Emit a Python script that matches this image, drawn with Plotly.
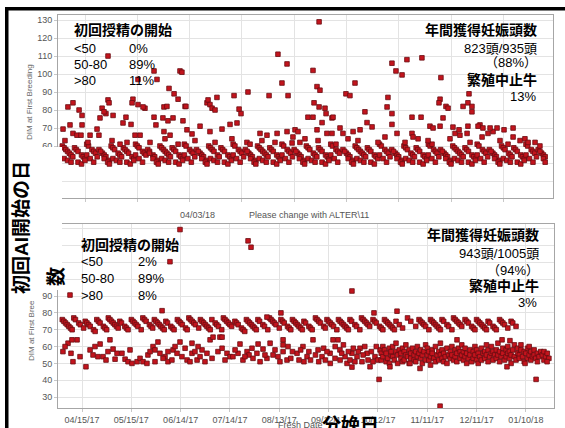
import pandas as pd
import plotly.graph_objects as go

W, H = 565, 428
BASE = pd.Timestamp("2017-04-01")

# ---------------- top chart (days since BASE, DIM at first breeding) ----------------
top_band_x = [
    1, 2, 3, 4, 5, 6, 7, 2, 4, 6,
    8, 9, 10, 12, 13, 14, 10, 12, 14,
    15, 16, 18, 19, 20, 15, 17, 19, 21,
    22, 24, 25, 26, 28, 23, 25, 27, 28,
    29, 30, 31, 33, 34, 35, 30, 32, 34,
    36, 37, 38, 39, 41, 42, 38, 40, 42,
    43, 44, 45, 47, 48, 43, 45, 47, 49,
    50, 51, 53, 54, 56, 51, 53, 55, 56,
    57, 58, 59, 60, 61, 62, 63, 58, 60, 62,
    64, 65, 66, 68, 69, 70, 66, 68, 70,
    71, 72, 74, 75, 76, 71, 73, 75, 77,
    78, 80, 81, 82, 84, 79, 81, 83, 84,
    85, 86, 87, 88, 90, 91, 86, 88, 90,
    92, 93, 94, 96, 97, 98, 94, 96, 98,
    99, 100, 102, 103, 104, 99, 101, 103, 105,
    106, 108, 109, 110, 112, 107, 109, 111, 112,
    113, 114, 115, 116, 117, 118, 119, 114, 116, 118,
    120, 121, 122, 124, 125, 126, 122, 124, 126,
    127, 128, 130, 131, 132, 127, 129, 131, 133,
    134, 136, 137, 138, 140, 135, 137, 139, 140,
    141, 142, 143, 145, 146, 147, 142, 144, 146,
    148, 149, 150, 152, 153, 154, 150, 152, 154,
    155, 156, 158, 159, 160, 155, 157, 159,
    162, 164, 165, 166, 168, 163, 165, 167, 168,
    169, 170, 171, 172, 173, 174, 175, 170, 172, 174,
    176, 177, 178, 180, 181, 182, 178, 180,
    183, 184, 186, 187, 188, 183, 185, 187, 189,
    190, 192, 193, 194, 196, 191, 193, 195, 196,
    197, 198, 199, 201, 202, 203, 198, 200, 202,
    204, 205, 206, 208, 209, 210, 206, 208, 210,
    211, 212, 214, 215, 216, 211, 213, 215, 217,
    218, 220, 221, 222, 224, 219, 221, 223, 224,
    225, 226, 227, 228, 229, 230, 231, 226, 228, 230,
    232, 233, 234, 236, 237, 238, 234, 236, 238,
    239, 240, 242, 243, 244, 239, 241, 243, 245,
    246, 248, 249, 250, 252, 247, 249, 251, 252,
    253, 254, 255, 257, 258, 259, 254, 256, 258,
    260, 261, 262, 264, 265, 266, 262, 264, 266,
    267, 268, 270, 271, 272, 267, 269, 271, 273,
    274, 276, 277, 278, 275, 277, 278,
]
top_band_y = [
    60, 59, 58, 57, 56, 55, 54, 53, 52, 51,
    59, 58, 57, 55, 54, 53, 51, 50, 52,
    61, 60, 58, 57, 56, 55, 53, 51, 54,
    58, 56, 55, 54, 52, 57, 53, 51, 50,
    60, 59, 58, 56, 55, 54, 53, 52, 51,
    59, 58, 57, 56, 54, 53, 51, 50, 52,
    61, 60, 59, 57, 56, 55, 53, 51, 55,
    58, 57, 55, 54, 52, 56, 53, 51, 50,
    60, 59, 58, 57, 56, 55, 54, 53, 52, 51,
    59, 58, 57, 55, 54, 53, 51, 50, 52,
    61, 60, 58, 57, 56, 55, 53, 51, 54,
    58, 56, 55, 54, 52, 57, 53, 51, 50,
    60, 59, 58, 57, 55, 54, 53, 52, 51,
    59, 58, 57, 55, 54, 53, 51, 50, 52,
    61, 60, 58, 57, 56, 55, 53, 51, 54,
    58, 56, 55, 54, 52, 57, 53, 51, 50,
    60, 59, 58, 57, 56, 55, 54, 53, 52, 51,
    59, 58, 57, 55, 54, 53, 51, 50, 52,
    61, 60, 58, 57, 56, 55, 53, 51, 54,
    58, 56, 55, 54, 52, 57, 53, 51, 50,
    60, 59, 58, 56, 55, 54, 53, 52, 51,
    59, 58, 57, 55, 54, 53, 51, 50, 52,
    61, 60, 58, 57, 56, 55, 53, 51,
    58, 56, 55, 54, 52, 57, 53, 51, 50,
    60, 59, 58, 57, 56, 55, 54, 53, 52, 51,
    59, 58, 57, 55, 54, 53, 51, 50,
    61, 60, 58, 57, 56, 55, 53, 51, 54,
    58, 56, 55, 54, 52, 57, 53, 51, 50,
    60, 59, 58, 56, 55, 54, 53, 52, 51,
    59, 58, 57, 55, 54, 53, 51, 50, 52,
    61, 60, 58, 57, 56, 55, 53, 51, 54,
    58, 56, 55, 54, 52, 57, 53, 51, 50,
    60, 59, 58, 57, 56, 55, 54, 53, 52, 51,
    59, 58, 57, 55, 54, 53, 51, 50, 52,
    61, 60, 58, 57, 56, 55, 53, 51, 54,
    58, 56, 55, 54, 52, 57, 53, 51, 50,
    60, 59, 58, 56, 55, 54, 53, 52, 51,
    59, 58, 57, 55, 54, 53, 51, 50, 52,
    61, 60, 58, 57, 56, 55, 53, 51, 54,
    58, 56, 55, 54, 57, 53, 51,
]

top_mid_x = [
    1.4, 5.4, 7.1, 9.4, 11.7, 16.9, 12.3, 20.9, 22.0, 22.6,
    26.0, 35.8, 40.4, 42.7, 45.6, 38.1, 54.7, 58.7, 64.5, 70.2,
    59.3, 62.8, 72.5, 75.4, 80.0, 85.7, 92.6, 97.2, 101.2, 106.9,
    114.4, 118.4, 124.2, 129.9, 134.5,
    2.5, 15.7, 29.5, 34.1, 51.3, 59.9, 67.4, 77.1, 88.6, 98.3, 108.7, 115.5, 123.0,
    137.3, 140.2, 147.7, 158.0, 164.9, 182.1, 186.1, 197.6, 205.1, 213.1,
    223.4, 234.9, 241.8, 252.1, 256.7, 266.4, 272.2, 275.0,
    155.7, 150.0, 160.3, 147.1, 152.8, 155.7, 162.0, 167.8, 171.8, 175.8,
    178.7, 170.6, 190.1, 193.0, 201.6, 202.2, 210.8, 226.3, 229.1, 233.2,
    240.6, 245.2, 248.1, 259.6, 263.6, 268.2, 136.2, 133.3, 132.8,
    217.7, 211.9, 213.7, 225.1, 228.6, 233.7, 239.5, 242.3, 246.4, 250.4, 254.4, 259.6,
]
top_mid_y = [
    69.4, 71.7, 67, 66, 66, 66, 71.7, 69.4, 66, 75.6,
    78, 72.8, 72, 66, 66, 62, 71.7, 75.6, 75.6, 74,
    68, 66, 69, 66.7, 71, 68, 69.4, 72, 72.8, 62,
    67, 66, 67, 68, 69,
    63, 62, 63, 61, 62, 64, 61, 63, 62, 64, 61, 63, 62,
    62, 64, 63, 61, 64, 62, 65, 62, 64, 61,
    64, 62, 65, 63, 61, 64, 62, 60,
    75.6, 73, 70, 69, 67, 67, 67, 68, 69, 73,
    70.6, 63, 72, 67, 67, 65, 63, 67, 66, 67,
    71.7, 67, 68, 65, 63, 62, 68, 65, 61.7,
    71, 71, 70, 70.5, 69, 71, 71, 70, 70, 70, 69, 70,
]

top_high_x = [
    27.2, 53.6, 44.4, 55.3, 68.5, 62.2, 65.1, 67.4, 71.4, 7.1,
    10.6, 12.3, 23.8, 27.2, 27.8, 24.9, 30.1, 41.5, 44.4, 48.4,
    37.5, 59.3, 61.6, 4.2, 41.0, 47.3, 53.6, 61.0, 84.0,
    148.3, 124.7, 129.9, 144.8, 127.0, 147.1, 148.8, 107.5, 168.9, 190.1,
    192.4, 119.6, 99.5, 89.7, 130.5, 163.7, 166.0, 187.8, 69.6, 84.6,
    85.7, 86.9, 88.6, 71.9, 102.4, 103.5, 145.4, 148.3, 151.7, 152.3,
    174.6, 187.3, 190.1, 141.9, 144.8, 156.3,
    207.3, 198.7, 195.9, 218.2, 217.7, 217.1, 234.3, 233.7, 236.0, 230.9,
    221.1, 222.3, 201.6, 206.8, 219.4, 236.0,
]
top_high_y = [
    110, 101.7, 97, 97, 101.7, 92, 89, 86, 82, 84,
    80, 77, 81, 85.6, 84, 79, 77, 86, 83, 81,
    76, 81.7, 74, 81.7, 84, 81.7, 76, 82, 84,
    129, 111, 105.6, 102, 95, 93, 91, 90, 95, 106,
    101.7, 88, 88, 87, 88, 89, 88, 87, 101, 85.6,
    83, 81, 80, 82, 80.5, 78, 84, 81.7, 81, 78,
    79, 81.7, 78, 76, 76, 76,
    109, 108, 99.5, 98, 86, 84, 89, 84, 82, 82,
    82, 81, 76, 76, 75.6, 79,
]

# ---------------- bottom chart ----------------
bot_sync_x = [
    2, 3, 4, 5, 6, 7, 8,
    9, 10, 12, 13, 15,
    16, 17, 18, 19, 21, 22,
    23, 24, 25, 27, 28, 29,
    30, 31, 32, 33, 34, 35, 36,
    37, 38, 40, 41, 42,
    44, 45, 46, 47, 48, 50,
    51, 52, 53, 55, 56, 57,
    58, 59, 60, 61, 62, 63, 64,
    65, 66, 68, 69, 70,
    72, 73, 74, 75, 77, 78,
    79, 80, 81, 82, 83, 85,
    86, 87, 88, 89, 90, 91, 92,
    93, 95, 96, 97, 99,
    100, 101, 102, 103, 104, 105,
    107, 108, 109, 111, 112, 113,
    114, 115, 116, 117, 118, 119, 120,
    121, 122, 124, 125, 127,
    128, 129, 130, 131, 132, 134,
    135, 136, 137, 139, 140, 141,
    142, 143, 144, 145, 146, 147, 148,
    149, 150, 152, 153, 154,
    156, 157, 158, 159, 161, 162,
    163, 164, 165, 166, 167, 169,
    170, 171, 172, 173, 174, 175, 176,
    177, 178, 180, 181, 183,
    184, 185, 186, 187, 188, 189,
    191, 192, 193, 195, 196, 197,
    198, 199, 200, 201, 202, 203, 204,
    205, 207, 209,
    212, 214, 217,
    219, 220, 221, 222, 223, 225,
    226, 227, 228, 229, 230, 231, 232,
    233, 234, 236, 237, 239,
    240, 241, 242, 243, 244, 245,
    247, 248, 249, 251, 252, 253,
    254, 255, 256, 257, 258, 259, 260,
    261, 262, 264, 265, 266,
    268, 269, 270, 271, 273,
    275, 276, 278,
]
bot_sync_y = [
    76, 75, 74, 73, 72, 71, 70,
    77, 76, 74, 73, 71,
    75, 74, 73, 72, 70, 69,
    76, 75, 74, 72, 71, 70,
    77, 76, 75, 74, 73, 72, 71,
    75, 74, 72, 71, 70,
    76, 75, 74, 73, 72, 70,
    77, 76, 75, 73, 72, 71,
    76, 75, 74, 73, 72, 71, 70,
    75, 74, 72, 71, 70,
    76, 75, 74, 73, 71, 70,
    77, 76, 75, 74, 73, 71,
    76, 75, 74, 73, 72, 71, 70,
    76, 74, 73, 72, 70,
    77, 76, 75, 74, 73, 72,
    75, 74, 73, 71, 70, 69,
    76, 75, 74, 73, 72, 71, 70,
    76, 75, 73, 72, 70,
    77, 76, 75, 74, 73, 71,
    76, 75, 74, 72, 71, 70,
    76, 75, 74, 73, 72, 71, 70,
    75, 74, 72, 71, 70,
    77, 76, 75, 74, 72, 71,
    76, 75, 74, 73, 72, 70,
    76, 75, 74, 73, 72, 71, 70,
    76, 75, 73, 72, 70,
    77, 76, 75, 74, 73, 72,
    76, 75, 74, 72, 71, 70,
    76, 75, 74, 73, 72, 71, 70,
    75, 73, 71,
    77, 75, 72,
    76, 75, 74, 73, 72, 70,
    76, 75, 74, 73, 72, 71, 70,
    76, 75, 73, 72, 70,
    77, 76, 75, 74, 73, 72,
    76, 75, 74, 72, 71, 70,
    76, 75, 74, 73, 72, 71, 70,
    75, 74, 72, 71, 70,
    76, 75, 74, 73, 71,
    75, 74, 72,
]

bot_heat_x = [
    2.4, 5.5, 7.9, 11.0, 7.3, 8.5, 12.8, 16.4, 18.9, 20.7,
    25.0, 23.7, 26.8, 28.6, 31.0, 32.9, 35.3, 34.1, 40.2, 42.0,
    44.4, 47.5, 49.3, 51.1, 54.1, 53.5, 57.2, 60.2, 58.4, 61.4,
    64.5, 66.3, 69.4, 66.3, 71.8, 73.6, 74.8, 77.9, 80.9, 80.9,
    82.7, 84.0, 85.8, 88.8, 90.0, 91.9, 93.7, 97.9, 99.2, 96.7,
    102.2, 104.0, 105.8, 108.9, 110.1, 114.4, 115.6, 118.0, 120.4, 121.1,
    124.1, 126.5, 128.4, 130.2, 133.2, 136.3, 138.7, 136.3,
    58.4, 63.3, 68.7, 76.7, 79.7, 87.0, 93.1, 101.0, 107.1, 111.9,
    117.4, 122.3, 125.3, 131.4, 134.4, 113.1, 99.2, 84.6, 70.6, 43.2,
    38.3, 21.9, 3.7, 29.8, 55.4,
    136.3, 139.3, 144.8, 148.4, 150.9, 154.5, 157.6, 160.0, 164.9, 166.7,
    169.7, 167.9, 170.9, 174.0, 175.2, 178.2, 181.3, 183.1, 184.3, 187.4,
    189.2, 192.2, 195.3,
    141, 142, 146, 147, 149, 152, 153, 156, 158, 161,
    162, 163, 165, 168, 171, 172, 173, 176, 177, 179,
    180, 182, 185, 186, 188, 190, 191, 193, 194,
    196, 196, 197, 197, 198, 199, 199, 200, 201, 201, 202, 202,
    203, 203, 204, 205, 205, 206, 206, 207, 208, 208, 209, 209,
    210, 210, 211, 211, 212, 213, 213, 214, 214, 215, 216, 216,
    217, 217, 218, 218, 219, 220, 220, 221, 221, 222, 223, 223,
    224, 224, 225, 225, 226, 226, 227, 227, 228, 229, 229, 230,
    231, 231, 232, 232, 233, 233, 234, 234, 235, 236, 236, 237,
    238, 238, 239, 239, 240, 241, 241, 242, 242, 243, 244, 244,
    245, 245, 246, 246, 247, 247, 248, 248, 249, 250, 250, 251,
    252, 252, 253, 253, 254, 254, 255, 255, 256, 257, 257, 258,
    259, 259, 260, 260, 261, 261, 262, 263, 263, 264, 264, 265,
    266, 266, 267, 267, 268, 268, 269, 270, 270, 271, 272, 272,
    273, 273, 274, 274, 275, 275, 276, 277, 277, 278, 279, 279,
    280, 280, 281, 281, 282, 283, 283, 284, 285, 285, 286, 286,
    287, 287, 288, 289, 289, 290, 291, 291, 292, 293,
    294, 295, 295, 296, 297, 298,
    178.2, 201.3, 213.5, 219.6, 272.5, 283.5, 296.9,
    242.1, 269.5, 274.3,
]
bot_heat_y = [
    57, 62, 64, 64, 56, 51, 54, 48, 58, 55,
    61.5, 54, 54, 52, 64, 58.5, 56, 52.5, 52.5, 51,
    50, 51, 53, 51, 55, 50, 60, 62.7, 51, 56,
    54, 57, 58, 51, 56, 62.7, 54, 52, 56, 62,
    57, 52, 54, 51, 56, 64, 65.6, 65.6, 65.6, 57,
    56, 54, 54, 56, 61.5, 57, 55, 53, 56, 61.5,
    58.5, 53, 62, 55, 54, 57, 52, 61,
    58, 53, 52, 59, 51, 58, 53, 52, 58, 52,
    59, 51, 55, 58, 51, 54, 59, 60, 60, 58,
    56, 60, 60, 57, 57,
    64, 60, 56, 60, 54, 64, 58, 54, 56, 64,
    64, 53, 58, 54, 50, 56, 54, 59, 51, 56,
    48, 54, 58,
    53, 57, 52, 58, 51, 57, 52, 55, 51, 59,
    52, 57, 50, 60, 52, 56, 61, 57, 52, 59,
    51, 57, 55, 60, 52, 57, 51, 60, 52,
    56, 52, 60, 54, 58, 51, 56, 53, 59, 50, 55, 57,
    54, 60, 52, 57, 62, 55, 50, 58, 53, 56, 51, 59,
    57, 52, 55, 61, 54, 58, 50, 56, 53, 59, 52, 55,
    57, 51, 60, 54, 56, 53, 58, 50, 55, 57, 52, 61,
    55, 59, 52, 57, 54, 49, 58, 56, 53, 51, 60, 55,
    57, 52, 55, 62, 53, 58, 51, 56, 54, 59, 50, 55,
    57, 53, 60, 55, 52, 58, 54, 56, 51, 59, 53, 57,
    55, 61, 52, 57, 54, 59, 50, 56, 53, 58, 55, 51,
    57, 53, 60, 55, 52, 58, 56, 50, 54, 59, 52, 56,
    57, 53, 61, 55, 51, 58, 54, 56, 60, 52, 57, 55,
    58, 53, 55, 62, 51, 57, 54, 59, 56, 52, 58, 54,
    56, 60, 53, 57, 55, 50, 58, 54, 61, 52, 56, 59,
    55, 53, 58, 61, 54, 57, 51, 56, 59, 53, 55, 60,
    57, 52, 54, 58, 55, 53, 56, 51, 54, 57,
    55, 52, 57, 54, 56, 53,
    47.8, 48, 50, 47, 48, 50, 51,
    64, 64, 63.5,
]

bot_out_x = [6.7, 67.5, 73.6, 115.0, 116.8, 178.2, 135.0, 191.6, 205.6, 126.5, 62.7, 194.7, 231.8, 290.2]
bot_out_y = [90.6, 110.4, 129.5, 122.8, 119, 93, 80, 80, 81, 77.5, 81.3, 40.5, 24.6, 40.5]

bottom_tick_labels = ["04/15/17", "05/15/17", "06/14/17", "07/14/17", "08/13/17",
                      "09/12/17", "10/12/17", "11/11/17", "12/11/17", "01/10/18"]

range_labels = ["&lt;50", "50-80", "&gt;80"]
top_pcts = ["0%", "89%", "11%"]
bot_pcts = ["2%", "89%", "8%"]


def dates(days):
    return (BASE + pd.to_timedelta(days, unit="D")).strftime("%Y-%m-%d %H:%M").tolist()


def dstr(day):
    return (BASE + pd.Timedelta(days=day)).strftime("%Y-%m-%d %H:%M:%S")


FONT = "Liberation Sans, Arial, Noto Sans CJK JP, sans-serif"
MK = dict(symbol="square", size=4.6, color="#c3141d", line=dict(color="#6a0c12", width=0.8))

top_x = top_band_x + top_mid_x + top_high_x
top_y = top_band_y + top_mid_y + top_high_y
bot_x = bot_sync_x + bot_heat_x + bot_out_x
bot_y = bot_sync_y + bot_heat_y + bot_out_y

fig = go.Figure()
fig.add_trace(go.Scatter(x=dates(top_x), y=top_y, mode="markers", marker=MK,
                         xaxis="x", yaxis="y", hoverinfo="skip", showlegend=False))
fig.add_trace(go.Scatter(x=dates(bot_x), y=bot_y, mode="markers", marker=MK,
                         xaxis="x2", yaxis="y2", hoverinfo="skip", showlegend=False))

GRID = "#e3e3e3"
LINE = "#a6a6a6"
TICKF = dict(size=9, color="#555", family=FONT)

common_x = dict(type="date", showgrid=True, gridcolor=GRID, gridwidth=1, showline=True,
                linecolor=LINE, linewidth=1, mirror=True, zeroline=False,
                ticks="outside", ticklen=3, tickcolor="#c8c8c8", tickfont=TICKF)
common_y = dict(showgrid=True, gridcolor=GRID, gridwidth=1, showline=True, linecolor=LINE,
                linewidth=1, mirror=True, zeroline=False, tick0=0, dtick=10,
                ticks="outside", ticklen=3, tickcolor="#c8c8c8", tickfont=TICKF)

tick_dates = pd.to_datetime(bottom_tick_labels, format="%m/%d/%y").strftime("%Y-%m-%d").tolist()

fig.update_layout(
    width=W, height=H, margin=dict(l=0, r=0, t=0, b=0),
    paper_bgcolor="white", plot_bgcolor="white", showlegend=False,
    xaxis=dict(common_x, domain=[58 / W, 553 / W], anchor="y",
               range=[dstr(-1.49), dstr(282.5)], tick0="2017-04-15",
               dtick=30 * 24 * 3600 * 1000, showticklabels=False),
    yaxis=dict(common_y, domain=[1 - 198 / H, 1 - 15 / H], anchor="x", range=[31.1, 132.8]),
    xaxis2=dict(common_x, domain=[58 / W, 554 / W], anchor="y2",
                range=[dstr(-0.6), dstr(301.1)], tickvals=tick_dates,
                ticktext=bottom_tick_labels, tickangle=0),
    yaxis2=dict(common_y, domain=[1 - 408 / H, 1 - 224 / H], anchor="x2", range=[23.5, 132.8]),
)


def P(x, y):
    return x / W, 1 - y / H


def ann(text, x, y, size=13, bold=False, xanchor="left", color="black", angle=0):
    px, py = P(x, y)
    return dict(text=f"<b>{text}</b>" if bold else text, x=px, y=py, xref="paper",
                yref="paper", xanchor=xanchor, yanchor="middle", showarrow=False,
                textangle=angle, font=dict(size=size, color=color, family=FONT))


annotations = [
    # axis titles / footer
    ann("DIM at First Breeding", 30, 102, size=8, color="#666", xanchor="center", angle=-90),
    ann("DIM at First Bree", 31, 331, size=8, color="#666", xanchor="center", angle=-90),
    ann("04/03/18", 197, 215, size=9, color="#555", xanchor="center"),
    ann("Please change with ALTER\\11", 247, 215, size=9, color="#555"),
    ann("Fresh Date", 300, 425, size=9, color="#555", xanchor="center"),
    # big Japanese labels
    ann("初回AI開始の日", 22, 228, size=19, bold=True, xanchor="center", angle=-90),
    ann("数", 56, 277, size=19, bold=True, xanchor="center", angle=-90),
    ann("分娩日", 350, 425, size=19, bold=True, xanchor="center"),
    # top-left block
    ann("初回授精の開始", 72, 30, size=14, bold=True),
    # top-right block
    ann("年間獲得妊娠頭数", 539, 30, size=14, bold=True, xanchor="right"),
    ann("823頭/935頭", 539, 48, xanchor="right"),
    ann("（88%）", 539, 63, xanchor="right"),
    ann("繁殖中止牛", 539, 80, size=14, bold=True, xanchor="right"),
    ann("13%", 538, 97, xanchor="right"),
    # bottom-left block
    ann("初回授精の開始", 79, 245, size=14, bold=True),
    # bottom-right block
    ann("年間獲得妊娠頭数", 541, 235, size=14, bold=True, xanchor="right"),
    ann("943頭/1005頭", 541, 253, xanchor="right"),
    ann("（94%）", 541, 270, xanchor="right"),
    ann("繁殖中止牛", 541, 286, size=14, bold=True, xanchor="right"),
    ann("3%", 539, 302, xanchor="right"),
]
for i, (lab, p1, p2) in enumerate(zip(range_labels, top_pcts, bot_pcts)):
    annotations.append(ann(lab, 72, 48 + i * 16.5))
    annotations.append(ann(p1, 127, 48 + i * 16.5))
    annotations.append(ann(lab, 79, 261 + i * 17))
    annotations.append(ann(p2, 136, 261 + i * 17))

shapes = [
    # white patch covering part of axes
    dict(type="rect", xref="paper", yref="paper", x0=8 / W, x1=62 / W,
         y0=1 - 290 / H, y1=1 - 147 / H, fillcolor="white", line=dict(width=0), layer="above"),
    # black frame (left and top)
    dict(type="rect", xref="paper", yref="paper", x0=5 / W, x1=8.5 / W,
         y0=0, y1=1 - 7 / H, fillcolor="black", line=dict(width=0), layer="above"),
    dict(type="rect", xref="paper", yref="paper", x0=5 / W, x1=1,
         y0=1 - 10.5 / H, y1=1 - 7 / H, fillcolor="black", line=dict(width=0), layer="above"),
]

fig.update_layout(annotations=annotations, shapes=shapes)
fig.write_html("out.html", config={"displayModeBar": False},
               post_script="document.body.style.margin='0px';document.body.style.overflow='hidden';")
